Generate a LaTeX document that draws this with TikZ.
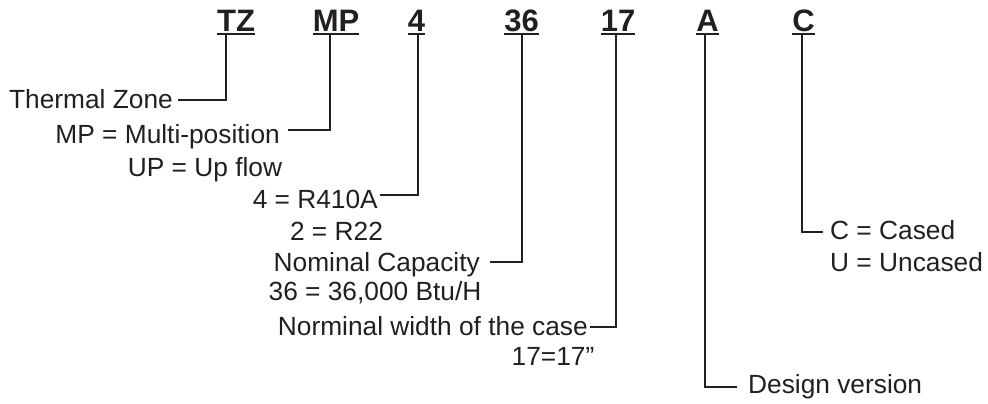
\documentclass[tikz,border=0pt]{standalone}
\usepackage{fontspec}
\setmainfont{Liberation Sans}
\definecolor{ink}{HTML}{231F20}
\tikzset{
  code/.style={inner sep=0pt, anchor=base, text=ink, font=\fontsize{31}{34}\selectfont\bfseries},
  lbl/.style={inner sep=0pt, text=ink, font=\fontsize{26.3}{30}\selectfont},
  conn/.style={draw=ink, line width=2pt},
  uline/.style={draw=ink, line width=2pt}
}
\begin{document}
\begin{tikzpicture}[x=1pt,y=-1pt]
\useasboundingbox (0,0) rectangle (988,404);
% code letters
\node[code] (tz) at (236,32) {TZ};
\node[code] (mp) at (336,32) {MP};
\node[code] (ref) at (416.5,32) {4};
\node[code] (cap) at (521.5,32) {36};
\node[code] (wid) at (618,32) {17};
\node[code] (ver) at (707.5,32) {A};
\node[code] (cas) at (803.5,32) {C};
\foreach \n in {tz,mp,ref,cap,wid,ver,cas}{
  \draw[uline] ([yshift=-2.5pt]\n.base west) -- ([yshift=-2.5pt]\n.base east);
}
% connector tops
\coordinate (tzb) at (226,34);
\coordinate (mpb) at (330,34);
\coordinate (refb) at (418,34);
\coordinate (capb) at (522,34);
\coordinate (widb) at (616,34);
\coordinate (verb) at (705,34);
\coordinate (casb) at (802,34);
% labels
\node[lbl, anchor=base east] (thermal) at (173,108) {Thermal Zone};
\node[lbl, anchor=base east] (multi) at (280,143) {MP = Multi-position};
\node[lbl, anchor=base] (up) at (205,176) {UP = Up flow};
\node[lbl, anchor=base east] (r410) at (378,208) {4 = R410A};
\node[lbl, anchor=base] (r22) at (336.5,240) {2 = R22};
\node[lbl, anchor=base east] (nomcap) at (480,271) {Nominal Capacity};
\node[lbl, anchor=base] (btu) at (375,300) {36 = 36,000 Btu/H};
\node[lbl, anchor=base east] (nomwid) at (588,335) {Norminal width of the case};
\node[lbl, anchor=base] (seventeen) at (553,365) {17=17”};
\node[lbl, anchor=base west] (design) at (748,393) {Design version};
\node[lbl, anchor=base west] (cased) at (830,239) {C = Cased};
\node[lbl, anchor=base west] (uncased) at (830,271) {U = Uncased};
% connectors
\draw[conn] (tzb) |- ([xshift=5pt,yshift=8pt]thermal.base east);
\draw[conn] (mpb) |- ([xshift=8pt,yshift=13pt]multi.base east);
\draw[conn] (refb) |- ([xshift=2pt,yshift=13pt]r410.base east);
\draw[conn] (capb) |- ([xshift=10pt,yshift=9pt]nomcap.base east);
\draw[conn] (widb) |- ([xshift=2pt,yshift=8pt]nomwid.base east);
\draw[conn] (verb) |- ([xshift=-11pt,yshift=6pt]design.base west);
\draw[conn] (casb) |- ([xshift=-7pt,yshift=7pt]cased.base west);
\end{tikzpicture}
\end{document}
